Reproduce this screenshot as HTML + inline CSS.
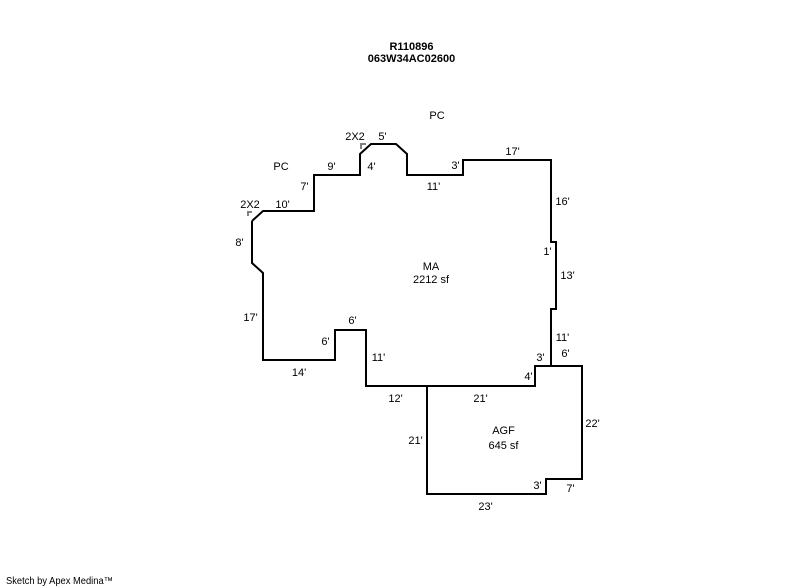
<!DOCTYPE html>
<html>
<head>
<meta charset="utf-8">
<style>
html,body{margin:0;padding:0;background:#fff;width:800px;height:587px;overflow:hidden}
svg{display:block}
text{font-family:"Liberation Sans",sans-serif;font-size:11px;fill:#000;text-anchor:middle}
.b{font-weight:bold}
</style>
</head>
<body>
<svg width="800" height="587" viewBox="0 0 800 587" xmlns="http://www.w3.org/2000/svg">
<g fill="none" stroke="#000" stroke-width="2" stroke-linejoin="miter">
<polyline points="252,221 263,211 314,211 314,175 360,175 360,154 371,144 396,144 407,154 407,175 463,175 463,160 551,160 551,242 556,242 556,309 551,309 551,366"/>
<polyline points="252,221 252,263 263,273 263,360 335,360 335,330 366,330 366,386 535,386 535,366 582,366 582,479 546,479 546,494 427,494 427,386"/>
</g>
<g fill="none" stroke="#808080" stroke-width="2">
<polyline points="248,216 248,212 252,212"/>
<polyline points="361,149 361,144 366,144"/>
</g>
<text class="b" x="411.5" y="50">R110896</text>
<text class="b" x="411.5" y="62">063W34AC02600</text>
<text x="437" y="119">PC</text>
<text x="355" y="140">2X2</text>
<text x="382.5" y="140">5'</text>
<text x="281" y="170">PC</text>
<text x="331.5" y="170">9'</text>
<text x="304.5" y="190">7'</text>
<text x="371.5" y="170">4'</text>
<text x="433.5" y="190">11'</text>
<text x="455.5" y="169">3'</text>
<text x="512.5" y="155">17'</text>
<text x="562.5" y="205">16'</text>
<text x="547.5" y="255">1'</text>
<text x="567.5" y="279">13'</text>
<text x="562.5" y="341">11'</text>
<text x="565.5" y="357">6'</text>
<text x="540.5" y="361">3'</text>
<text x="528.5" y="380">4'</text>
<text x="480.5" y="402">21'</text>
<text x="592.5" y="427">22'</text>
<text x="503.5" y="434">AGF</text>
<text x="503.5" y="449">645 sf</text>
<text x="415.5" y="444">21'</text>
<text x="537.5" y="489">3'</text>
<text x="570.5" y="492">7'</text>
<text x="485.5" y="510">23'</text>
<text x="431" y="270">MA</text>
<text x="431" y="283">2212 sf</text>
<text x="250" y="208">2X2</text>
<text x="282.5" y="208">10'</text>
<text x="239.5" y="246">8'</text>
<text x="250.5" y="321">17'</text>
<text x="352.5" y="324">6'</text>
<text x="325.5" y="345">6'</text>
<text x="299" y="376">14'</text>
<text x="378.5" y="361">11'</text>
<text x="395.5" y="402">12'</text>
<text x="6" y="584" style="text-anchor:start;font-size:10px" textLength="107" lengthAdjust="spacingAndGlyphs">Sketch by Apex Medina™</text>
</svg>
</body>
</html>
